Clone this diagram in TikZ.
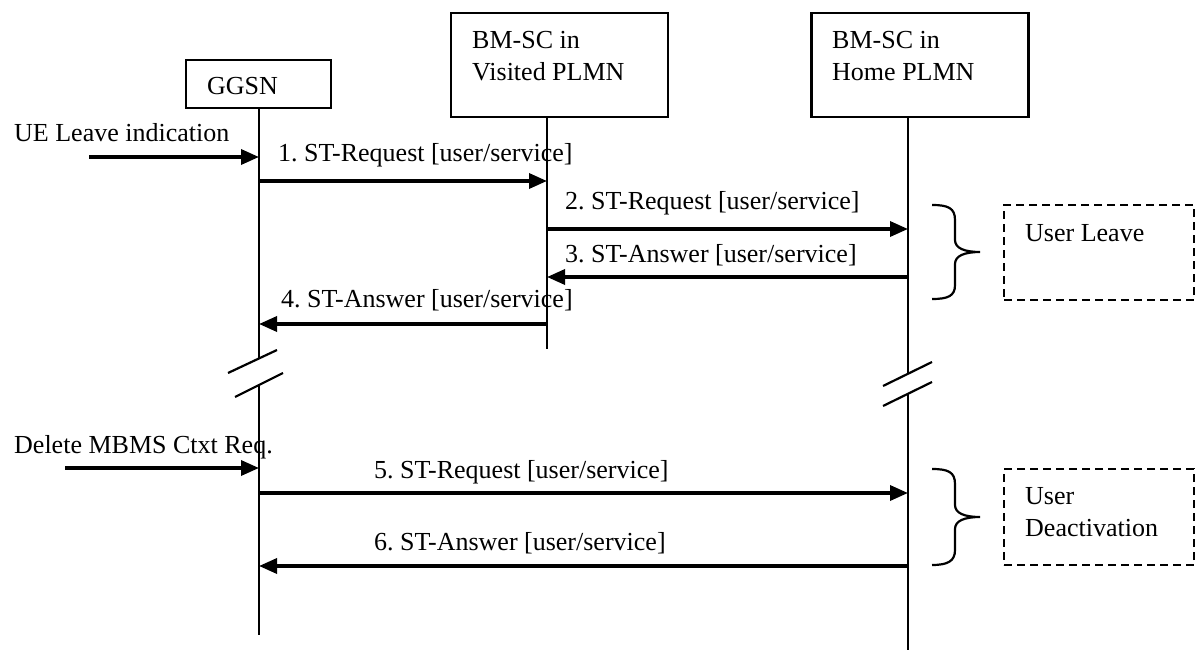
\documentclass[tikz,border=0pt]{standalone}
\usepackage{fontspec}
\setmainfont{Liberation Serif}
\frenchspacing
\usetikzlibrary{arrows.meta}
\begin{document}
\begin{tikzpicture}[x=1pt,y=-1pt,
  box/.style={draw, line width=2.2pt, inner sep=0pt},
  lbl/.style={anchor=west, inner sep=0pt, font=\fontsize{26}{32}\selectfont, align=left},
  life/.style={line width=2pt},
  msg/.style={line width=3.4pt, -{Triangle[length=18pt,width=15pt]}},
  brk/.style={line width=2.2pt},
  grp/.style={draw, dash pattern=on 8pt off 5pt, line width=2.2pt, inner sep=0pt},
  brc/.style={line width=2.2pt}]
\useasboundingbox (0,0) rectangle (1197,650);

% entity boxes
\node[box, minimum width=145pt, minimum height=48pt] (ggsn) at (258.5,84) {};
\node[lbl] (ggsnt) at (207,86) {GGSN};
\node[box, minimum width=217pt, minimum height=104pt] (vis) at (559.5,65) {};
\node[lbl] (vist) at (472,56) {BM-SC in\\Visited PLMN};
\node[box, minimum width=217pt, minimum height=104pt] (home) at (920,65) {};
\node[lbl] (homet) at (832,56) {BM-SC in\\Home PLMN};

% lifeline points
\coordinate (g0) at (259,108);
\coordinate (g1) at (259,359);
\coordinate (g2) at (259,385);
\coordinate (g3) at (259,635);
\coordinate (v0) at (547,117);
\coordinate (v1) at (547,349);
\coordinate (h0) at (908,117);
\coordinate (h1) at (908,374);
\coordinate (h2) at (908,394);
\coordinate (h3) at (908,650);

\draw[life] (g0) -- (g1);
\draw[life] (g2) -- (g3);
\draw[life] (v0) -- (v1);
\draw[life] (h0) -- (h1);
\draw[life] (h2) -- (h3);

% break marks
\coordinate (gb1a) at (228,373); \coordinate (gb1b) at (277,350);
\coordinate (gb2a) at (235,397); \coordinate (gb2b) at (283,373);
\coordinate (hb1a) at (883,386); \coordinate (hb1b) at (932,362);
\coordinate (hb2a) at (883,406); \coordinate (hb2b) at (932,382);
\draw[brk] (gb1a) -- (gb1b);
\draw[brk] (gb2a) -- (gb2b);
\draw[brk] (hb1a) -- (hb1b);
\draw[brk] (hb2a) -- (hb2b);

% message end points
\coordinate (in1s) at (89,157);  \coordinate (in1e) at (259,157);
\coordinate (in2s) at (65,468);  \coordinate (in2e) at (259,468);
\coordinate (m1s) at (259,181);  \coordinate (m1e) at (547,181);
\coordinate (m2s) at (547,229);  \coordinate (m2e) at (908,229);
\coordinate (m3s) at (908,277);  \coordinate (m3e) at (547,277);
\coordinate (m4s) at (547,324);  \coordinate (m4e) at (259,324);
\coordinate (m5s) at (259,493);  \coordinate (m5e) at (908,493);
\coordinate (m6s) at (908,566);  \coordinate (m6e) at (259,566);

\draw[msg] (in1s) -- (in1e);
\draw[msg] (in2s) -- (in2e);
\draw[msg] (m1s) -- (m1e);
\draw[msg] (m2s) -- (m2e);
\draw[msg] (m3s) -- (m3e);
\draw[msg] (m4s) -- (m4e);
\draw[msg] (m5s) -- (m5e);
\draw[msg] (m6s) -- (m6e);

% labels
\node[lbl] (tin1) at (14,133) {UE Leave indication};
\node[lbl] (tin2) at (14,447) {Delete MBMS Ctxt Req.};
\node[lbl] (t1) at (278,155) {1. ST-Request [user/service]};
\node[lbl] (t2) at (565,203) {2. ST-Request [user/service]};
\node[lbl] (t3) at (565,255) {3. ST-Answer [user/service]};
\node[lbl] (t4) at (281,300) {4. ST-Answer [user/service]};
\node[lbl] (t5) at (374,472) {5. ST-Request [user/service]};
\node[lbl] (t6) at (374,543) {6. ST-Answer [user/service]};

% grouping boxes
\node[grp, minimum width=190pt, minimum height=95pt] (leave) at (1099,252.5) {};
\node[lbl] (leavet) at (1025,233) {User Leave};
\node[grp, minimum width=190pt, minimum height=96pt] (deact) at (1099,517) {};
\node[lbl] (deactt) at (1025,512) {User\\Deactivation};

% braces
\draw[brc] (932,205) .. controls (948,205) and (955,208) .. (955,220) -- (955,240)
  .. controls (955,248) and (964,252) .. (980,252)
  .. controls (964,252) and (955,256) .. (955,264) -- (955,285)
  .. controls (955,296) and (948,299) .. (932,299);
\draw[brc] (932,469) .. controls (948,469) and (955,472) .. (955,484) -- (955,505)
  .. controls (955,513) and (964,517) .. (980,517)
  .. controls (964,517) and (955,521) .. (955,529) -- (955,550)
  .. controls (955,561) and (948,565) .. (932,565);
\end{tikzpicture}
\end{document}
